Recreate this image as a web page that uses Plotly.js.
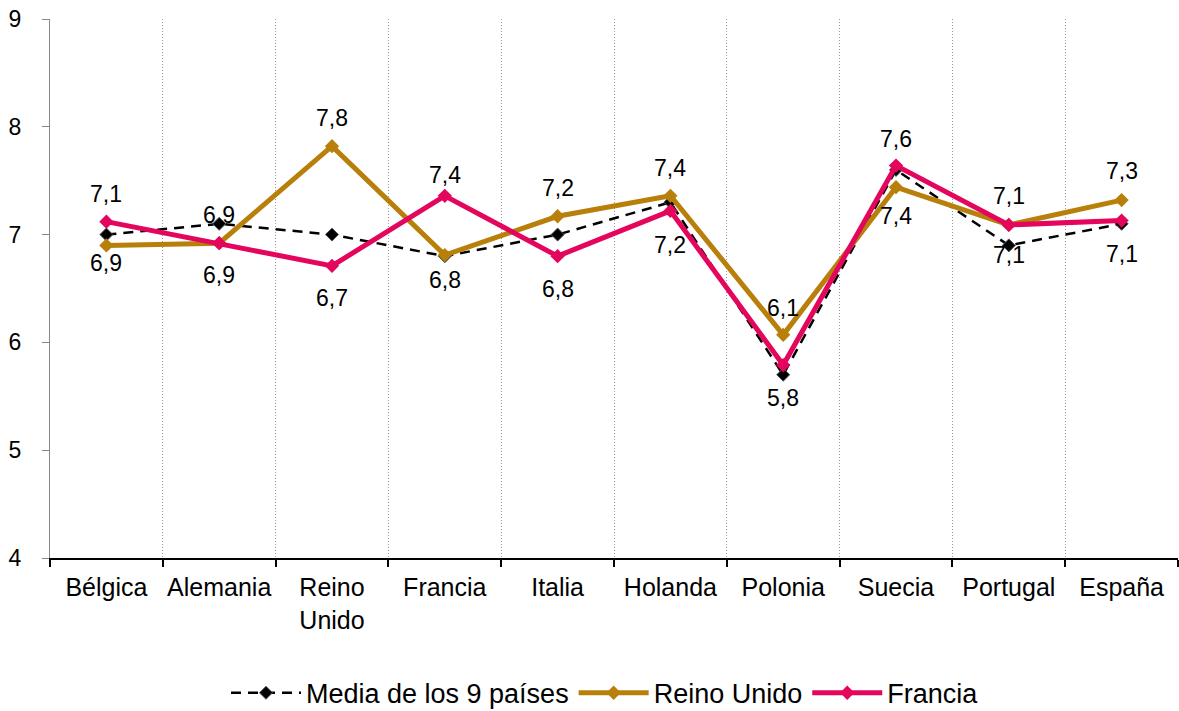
<!DOCTYPE html>
<html>
<head>
<meta charset="utf-8">
<script src="https://cdn.plot.ly/plotly-3.0.1.min.js"></script>
<style>html,body{margin:0;padding:0;background:#fff;}#chart{width:1179px;height:711px;}</style>
</head>
<body>
<div id="chart"></div>
<script>
// ---- data ----
const categories = ["Bélgica","Alemania","Reino<br>Unido","Francia","Italia","Holanda","Polonia","Suecia","Portugal","España"];
const media   = [7.0, 7.1, 7.0, 6.8, 7.0, 7.3, 5.7, 7.6, 6.9, 7.1];
const reino   = [6.9, 6.92, 7.82, 6.81, 7.17, 7.36, 6.07, 7.44, 7.09, 7.32];
const francia = [7.12, 6.92, 6.71, 7.36, 6.8, 7.22, 5.79, 7.64, 7.09, 7.13];
const seriesNames = ["Media de los 9 países", "Reino Unido", "Francia"];

// ---- label styling (pixel shift of each data label from its point; + = up) ----
const shiftReino   = [-18, 28, 28, -25, 28, 28, 27, -29, 29, 29];
const shiftFrancia = [28, -32, -32, 21, -33, -34, -33, 27, -30, -33];

const FONT = "Liberation Sans, Arial, Helvetica, sans-serif";
const fmt = v => (Math.round(v * 10) / 10).toFixed(1).replace(".", ",");

const traces = [
  {
    x: categories, y: media, name: seriesNames[0], type: "scatter", mode: "lines+markers",
    line: {color: "#000000", width: 2.5, dash: "10px,7px"},
    marker: {symbol: "diamond", size: 10, color: "#000000", line: {color: "#4a5560", width: 1}}
  },
  {
    x: categories, y: reino, name: seriesNames[1], type: "scatter", mode: "lines+markers",
    line: {color: "#b8800a", width: 5},
    marker: {symbol: "diamond", size: 11, color: "#b8800a"}
  },
  {
    x: categories, y: francia, name: seriesNames[2], type: "scatter", mode: "lines+markers",
    line: {color: "#e4065c", width: 5},
    marker: {symbol: "diamond", size: 11, color: "#e4065c"}
  }
];

const annotations = [];
categories.forEach((c, i) => {
  annotations.push({x: c, y: reino[i], xref: "x", yref: "y", text: fmt(reino[i]), showarrow: false,
    yshift: shiftReino[i], font: {family: FONT, size: 23, color: "#000"}});
  annotations.push({x: c, y: francia[i], xref: "x", yref: "y", text: fmt(francia[i]), showarrow: false,
    yshift: shiftFrancia[i], font: {family: FONT, size: 23, color: "#000"}});
});

const layout = {
  width: 1179, height: 711,
  margin: {l: 50, r: 1, t: 19, b: 153, autoexpand: false},
  paper_bgcolor: "#fff", plot_bgcolor: "#fff",
  font: {family: FONT, color: "#000"},
  showlegend: true,
  legend: {orientation: "h", x: 0.492, xanchor: "center", yref: "container", y: 0.025, yanchor: "middle",
    font: {family: FONT, size: 27, color: "#000"}, itemwidth: 70, tracegroupgap: 0},
  xaxis: {
    type: "category", range: [-0.5, 9.5], tickangle: 0, automargin: false,
    tickson: "boundaries", ticks: "outside", ticklen: 7, tickwidth: 2, tickcolor: "#000",
    showline: true, linecolor: "#000", linewidth: 2,
    showgrid: true, gridcolor: "#9a9a9a", gridwidth: 1, griddash: "1px,2px",
    tickfont: {family: FONT, size: 25, color: "#000"},
    ticklabelstandoff: 6,
    zeroline: false, fixedrange: true
  },
  yaxis: {
    range: [4, 9], tickvals: [4,5,6,7,8,9], ticktext: ["4","5","6","7","8","9"], automargin: false,
    ticks: "outside", ticklen: 7, tickwidth: 1, tickcolor: "#888",
    showline: true, linecolor: "#888", linewidth: 1,
    showgrid: false, zeroline: false,
    ticklabelstandoff: 16,
    tickfont: {family: FONT, size: 23, color: "#000"}, fixedrange: true
  },
  annotations: annotations
};

Plotly.newPlot("chart", traces, layout, {displayModeBar: false, staticPlot: true});
</script>
</body>
</html>
